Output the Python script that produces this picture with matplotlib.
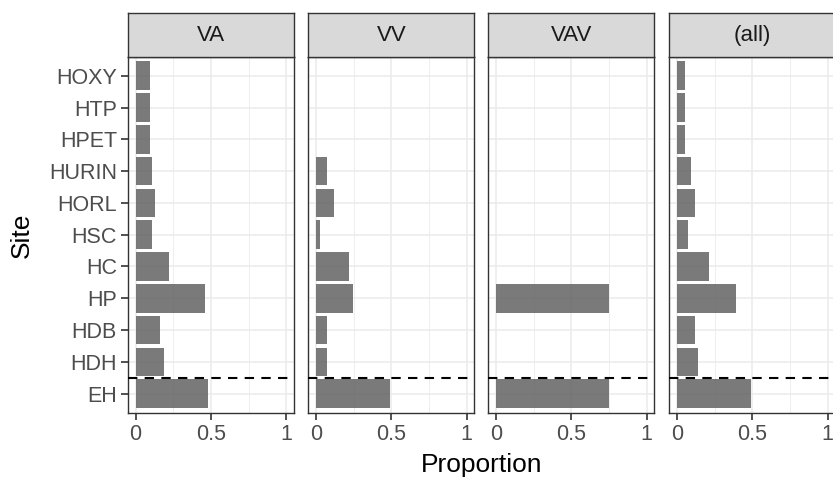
import numpy as np
import matplotlib
matplotlib.use('Agg')
import matplotlib.pyplot as plt

# ── data (sites listed top to bottom) ──
sites = ['HOXY', 'HTP', 'HPET', 'HURIN', 'HORL', 'HSC', 'HC', 'HP', 'HDB', 'HDH', 'EH']
panels = ['VA', 'VV', 'VAV', '(all)']
va   = [0.095, 0.095, 0.095, 0.11, 0.126, 0.11, 0.223, 0.461, 0.159, 0.19, 0.477]
vv   = [0.0, 0.0, 0.0, 0.073, 0.121, 0.026, 0.219, 0.243, 0.073, 0.073, 0.49]
vav  = [0.0, 0.0, 0.0, 0.0, 0.0, 0.0, 0.0, 0.75, 0.0, 0.0, 0.75]
allv = [0.055, 0.055, 0.055, 0.093, 0.121, 0.073, 0.214, 0.391, 0.121, 0.139, 0.492]
x_ticks = [0, 0.5, 1]
x_ticklabels = ['0', '0.5', '1']

plt.rcParams['font.family'] = ['Liberation Sans', 'DejaVu Sans']

W, H = 833, 480
fig = plt.figure(figsize=(W / 100, H / 100), dpi=100)

BORDER = '#333333'
GRID = '#EBEBEB'
series = [va, vv, vav, allv]
n = len(sites)
ypos = np.arange(n, 0, -1)  # HOXY at top, EH at 1

panel_left = [128, 308.3, 488.3, 669.3]
pw = 166
top, bottom = 56.7, 412.7
strip_top = 13.3

for i, (name, vals) in enumerate(zip(panels, series)):
    x0 = panel_left[i]
    ax = fig.add_axes([x0 / W, 1 - bottom / H, pw / W, (bottom - top) / H])
    ax.set_xlim(-0.05, 1.05)
    ax.set_ylim(0.4, n + 0.6)

    # grid
    for gx in [0.25, 0.75]:
        ax.axvline(gx, color=GRID, linewidth=0.6, zorder=0)
    for gx in x_ticks:
        ax.axvline(gx, color=GRID, linewidth=1.1, zorder=0)
    for gy in ypos:
        ax.axhline(gy, color=GRID, linewidth=1.1, zorder=0)

    ax.barh(ypos, vals, height=0.9, color='#595959', alpha=0.8,
            edgecolor='none', zorder=2)
    ax.axhline(1.5, color='black', linewidth=1.5, linestyle=(0, (4.5, 3.5)), zorder=3)

    ax.set_xticks(x_ticks)
    ax.set_xticklabels(x_ticklabels)
    ax.tick_params(axis='x', length=5, width=1.2, color=BORDER,
                   labelsize=15.5, labelcolor='#4D4D4D', pad=3)
    if i == 0:
        ax.set_yticks(ypos)
        ax.set_yticklabels(sites)
        ax.tick_params(axis='y', length=5, width=1.2, color=BORDER,
                       labelsize=15.5, labelcolor='#4D4D4D', pad=3)
    else:
        ax.set_yticks([])
    for sp in ax.spines.values():
        sp.set_color(BORDER)
        sp.set_linewidth(1.0)

    # facet strip
    sax = fig.add_axes([x0 / W, 1 - top / H, pw / W, (top - strip_top) / H])
    sax.set_facecolor('#D9D9D9')
    sax.set_xticks([])
    sax.set_yticks([])
    for sp in sax.spines.values():
        sp.set_color(BORDER)
        sp.set_linewidth(1.0)
    sax.text(0.5, 0.48, name, ha='center', va='center', fontsize=16,
             color='#1A1A1A', transform=sax.transAxes)

fig.text((128 + 669.3 + pw) / 2 / W, 1 - 465 / H, 'Proportion', ha='center',
         va='center', fontsize=19, color='black')
fig.text(22 / W, 1 - 235 / H, 'Site', ha='center', va='center',
         rotation=90, fontsize=19, color='black')

fig.savefig('out.png', dpi=100, facecolor='white')
